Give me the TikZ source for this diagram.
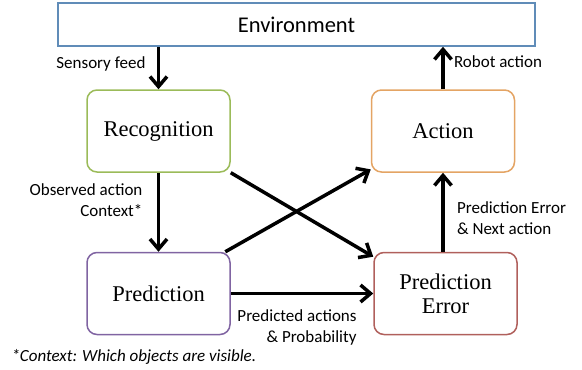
\documentclass[tikz,border=0pt]{standalone}
\usepackage{fontspec}
\setmainfont{Liberation Serif}
\newfontfamily\carl{Carlito}
\usetikzlibrary{arrows.meta}
\definecolor{envblue}{RGB}{96,140,184}
\definecolor{recgreen}{RGB}{155,187,89}
\definecolor{actorange}{RGB}{228,164,100}
\definecolor{predpurple}{RGB}{128,100,162}
\definecolor{errred}{RGB}{176,96,92}
\begin{document}
\begin{tikzpicture}[x=1pt,y=-1pt,
  blk/.style={draw,line width=1.5pt,rounded corners=10pt,minimum width=143pt,minimum height=82pt,align=center,font=\fontsize{22.5}{24}\selectfont},
  arr/.style={line width=3.5pt,-{Straight Barb[length=10pt,width=17pt]}},
  lbl/.style={font=\carl\fontsize{17}{21}\selectfont}]
\useasboundingbox (0,0) rectangle (582,370);
\node[draw=envblue,line width=1.5pt,minimum width=477pt,minimum height=43pt,font=\carl\fontsize{22.5}{24}\selectfont] (env) at (296.5,24.5) {Environment};
\node[blk,draw=recgreen] (rec) at (158.5,131) {Recognition};
\node[blk,draw=actorange] (act) at (443,131) {Action};
\node[blk,draw=predpurple] (pred) at (158.5,293.5) {Prediction};
\node[blk,draw=errred] (pe) at (445.5,293.5) {Prediction\\Error};
% arrows
\draw[arr] (rec.north |- env.south) -- node[lbl,left,pos=.4,xshift=-8pt] {Sensory feed} (rec.north);
\draw[arr] (act.north) -- node[lbl,right,pos=.65,xshift=6pt] {Robot action} (act.north |- env.south);
\draw[arr] (rec.south) -- node[lbl,left,align=right,pos=.35,xshift=-11pt] {Observed action\\Context*} (pred.north);
\draw[arr] (act.south |- pe.north) -- node[lbl,right,align=left,pos=.43,xshift=9pt] {Prediction Error\\\& Next action} (act.south);
\draw[arr] (pred.east) -- node[lbl,below,align=right,pos=.465,yshift=-11pt] {Predicted actions\\\& Probability} (pe.west);
\draw[arr] (rec.-30) -- (pe.153);
\draw[arr] (pred.32) -- (act.208);
\node[lbl,anchor=west,font=\carl\itshape\fontsize{17}{21}\selectfont] (note) at (8,357) {*Context: Which objects are visible.};
\end{tikzpicture}
\end{document}
